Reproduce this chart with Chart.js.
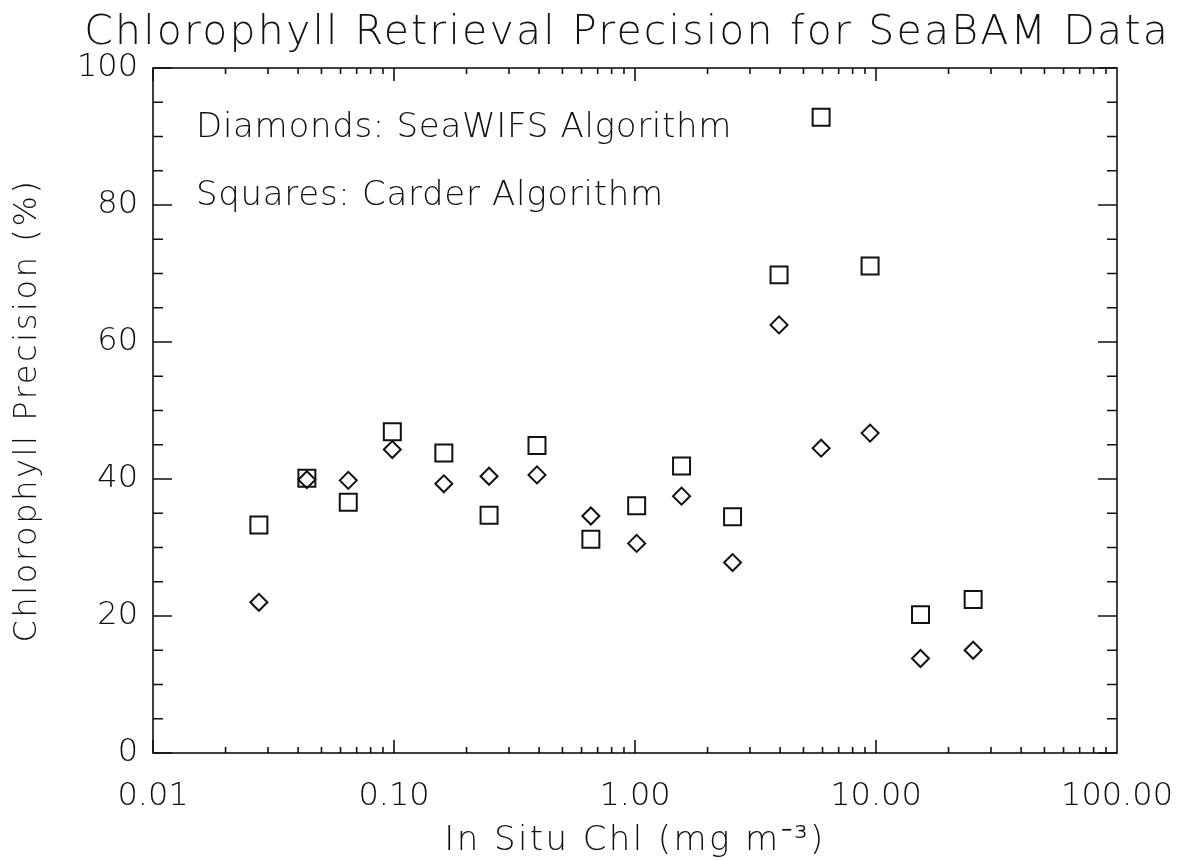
<!DOCTYPE html>
<html>
<head>
<meta charset="utf-8">
<script src="https://cdn.jsdelivr.net/npm/chart.js@4.4.1/dist/chart.umd.min.js"></script>
<style>
  html, body { margin: 0; padding: 0; background: #fff; }
  #wrap { width: 1181px; height: 860px; }
</style>
</head>
<body>
<div id="wrap"><canvas id="myChart" width="1181" height="860"></canvas></div>
<script>
// In situ chlorophyll bins (mg m^-3)
const chl = [0.0275, 0.0435, 0.0646, 0.0984, 0.161, 0.248, 0.392, 0.656,
             1.016, 1.56, 2.54, 3.96, 5.92, 9.45, 15.3, 25.3];
// precision (%) per bin
const seawifs = [22.0, 39.9, 39.8, 44.3, 39.3, 40.4, 40.6, 34.6,
                 30.6, 37.5, 27.8, 62.5, 44.5, 46.7, 13.8, 15.0];
const carder = [33.3, 40.1, 36.6, 46.9, 43.8, 34.7, 44.9, 31.2,
                36.1, 41.9, 34.5, 69.8, 92.8, 71.1, 20.2, 22.4];
const xTicks = [0.01, 0.1, 1, 10, 100];
const xTickLabels = ["0.01", "0.10", "1.00", "10.00", "100.00"];
const yTicks = [0, 20, 40, 60, 80, 100];

const FONT = "'DejaVu Sans', sans-serif";
const INK = "#111";

// the original lettering is wider than DejaVu, so space the titles out a bit
function spaced(obj, method, px) {
  if (!obj || obj["_sp_" + method]) return;
  const orig = obj[method];
  obj[method] = function (...args) {
    const c = this.ctx;
    c.letterSpacing = px + "px";
    orig.apply(this, args);
    c.letterSpacing = "0px";
  };
  obj["_sp_" + method] = true;
}

const spacing = {
  id: "spacing",
  afterUpdate(chart) {
    spaced(chart.titleBlock, "draw", 2.2);
    spaced(chart.scales.x, "drawTitle", 2.4);
    spaced(chart.scales.y, "drawTitle", 2.6);
  }
};

// IDL style frame: box + inward ticks on all four sides
const frame = {
  id: "frame",
  afterDraw(chart) {
    const { ctx, chartArea: a, scales } = chart;
    const xs = scales.x, ys = scales.y;
    ctx.save();
    ctx.strokeStyle = INK;
    ctx.lineWidth = 1.6;
    ctx.strokeRect(a.left, a.top, a.right - a.left, a.bottom - a.top);
    ctx.beginPath();
    for (let d = -2; d < 2; d++) {
      for (let m = 1; m <= 9; m++) {
        const v = m * Math.pow(10, d);
        const px = xs.getPixelForValue(v);
        const len = m === 1 ? 13 : 6;
        ctx.moveTo(px, a.bottom); ctx.lineTo(px, a.bottom - len);
        ctx.moveTo(px, a.top); ctx.lineTo(px, a.top + len);
      }
    }
    for (let v = 0; v <= 100; v += 5) {
      const py = ys.getPixelForValue(v);
      const len = v % 20 === 0 ? 19 : 10;
      ctx.moveTo(a.left, py); ctx.lineTo(a.left + len, py);
      ctx.moveTo(a.right, py); ctx.lineTo(a.right - len, py);
    }
    ctx.stroke();

    ctx.fillStyle = INK;
    ctx.font = "200 34px " + FONT;
    ctx.letterSpacing = "0.7px";
    ctx.textBaseline = "alphabetic";
    ctx.textAlign = "left";
    ctx.fillText("Diamonds: SeaWIFS Algorithm", a.left + 43, a.top + 69);
    ctx.fillText("Squares: Carder Algorithm", a.left + 43, a.top + 137);
    ctx.restore();
  }
};

new Chart(document.getElementById("myChart"), {
  type: "scatter",
  data: {
    datasets: [
      {
        label: "SeaWIFS Algorithm",
        data: chl.map((x, i) => ({ x: x, y: seawifs[i] })),
        pointStyle: "rectRot",
        pointRadius: 8.5,
        borderColor: INK,
        backgroundColor: "rgba(0,0,0,0)",
        borderWidth: 2,
      },
      {
        label: "Carder Algorithm",
        data: chl.map((x, i) => ({ x: x, y: carder[i] })),
        pointStyle: "rect",
        pointRadius: 12,
        borderColor: INK,
        backgroundColor: "rgba(0,0,0,0)",
        borderWidth: 2,
      },
    ],
  },
  options: {
    responsive: false,
    animation: false,
    layout: { padding: { left: 0, right: 11, top: 0, bottom: 0 } },
    plugins: {
      legend: { display: false },
      tooltip: { enabled: false },
      title: {
        display: true,
        text: "Chlorophyll Retrieval Precision for SeaBAM Data",
        color: INK,
        font: { family: FONT, size: 41, weight: 200, lineHeight: 1.2 },
        padding: { top: 9, bottom: 9.8 },
        align: "end",
      },
    },
    scales: {
      x: {
        type: "logarithmic",
        min: 0.01,
        max: 100,
        grid: { display: false, drawTicks: false },
        border: { display: false },
        afterBuildTicks: (s) => { s.ticks = xTicks.map((v) => ({ value: v })); },
        afterFit: (s) => {
          s.height = 107;
          s.paddingLeft = 0;
          s.paddingRight = 64;
        },
        ticks: {
          autoSkip: false,
          maxRotation: 0,
          padding: 24,
          color: INK,
          font: { family: FONT, size: 32, weight: 200 },
          callback: (v) => xTickLabels[xTicks.indexOf(v)] ?? "",
        },
        title: {
          display: true,
          text: "In Situ Chl (mg m⁻³)",
          color: INK,
          font: { family: FONT, size: 34, weight: 200, lineHeight: 1 },
          padding: { top: 0, bottom: 2 },
        },
      },
      y: {
        min: 0,
        max: 100,
        grid: { display: false, drawTicks: false },
        border: { display: false },
        afterBuildTicks: (s) => { s.ticks = yTicks.map((v) => ({ value: v })); },
        afterFit: (s) => {
          s.width = 153;
          s.paddingTop = 0;
          s.paddingBottom = 0;
        },
        ticks: {
          padding: 15,
          color: INK,
          font: { family: FONT, size: 32, weight: 200 },
        },
        title: {
          display: true,
          text: "Chlorophyll Precision (%)",
          color: INK,
          font: { family: FONT, size: 32, weight: 200, lineHeight: 1 },
          padding: { top: 12, bottom: 0 },
        },
      },
    },
  },
  plugins: [spacing, frame],
});
</script>
</body>
</html>
